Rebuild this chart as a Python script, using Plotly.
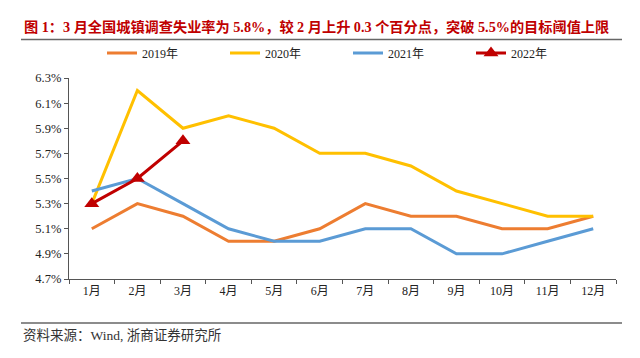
import plotly.graph_objects as go

months = ["1月", "2月", "3月", "4月", "5月", "6月", "7月", "8月", "9月", "10月", "11月", "12月"]
y2019 = [5.1, 5.3, 5.2, 5.0, 5.0, 5.1, 5.3, 5.2, 5.2, 5.1, 5.1, 5.2]
y2020 = [5.3, 6.2, 5.9, 6.0, 5.9, 5.7, 5.7, 5.6, 5.4, 5.3, 5.2, 5.2]
y2021 = [5.4, 5.5, 5.3, 5.1, 5.0, 5.0, 5.1, 5.1, 4.9, 4.9, 5.0, 5.1]
y2022 = [5.3, 5.5, 5.8]
ytick_vals = [4.7, 4.9, 5.1, 5.3, 5.5, 5.7, 5.9, 6.1, 6.3]
ytick_text = ["4.7%", "4.9%", "5.1%", "5.3%", "5.5%", "5.7%", "5.9%", "6.1%", "6.3%"]

# page body has an 8px default margin: work in window pixels, convert to figure pixels
OFF = 8
W, H = 640 - 2 * OFF, 358 - 2 * OFF
PL, PR, PT, PB = 69, 616, 78, 279          # plot area in window pixels
L, T = PL - OFF, PT - OFF
R, B = W - (PR - OFF), H - (PB - OFF)
pw, ph = W - L - R, H - T - B

def px(x):
    return (x - OFF - L) / pw

def py(y):
    return (H - B - (y - OFF)) / ph

serif = "Liberation Serif, Noto Sans CJK SC, serif"

fig = go.Figure()
fig.add_trace(go.Scatter(x=months, y=y2019, name="2019年", mode="lines",
                         line=dict(color="#ED7D31", width=3)))
fig.add_trace(go.Scatter(x=months, y=y2020, name="2020年", mode="lines",
                         line=dict(color="#FFC000", width=3)))
fig.add_trace(go.Scatter(x=months, y=y2021, name="2021年", mode="lines",
                         line=dict(color="#5B9BD5", width=3)))
fig.add_trace(go.Scatter(x=months[:3], y=y2022, name="2022年", mode="lines+markers",
                         line=dict(color="#C00000", width=3),
                         marker=dict(symbol="triangle-up", size=13, color="#C00000")))

fig.update_layout(
    width=W, height=H,
    margin=dict(l=L, r=R, t=T, b=B, autoexpand=False),
    paper_bgcolor="white", plot_bgcolor="white",
    font=dict(family=serif, size=12, color="#222"),
    showlegend=True,
    legend=dict(orientation="h", x=px(102), xanchor="left", y=py(53), yanchor="middle",
                entrywidth=78, entrywidthmode="pixels", font=dict(size=12, family=serif),
                bgcolor="rgba(0,0,0,0)", itemwidth=30, tracegroupgap=0),
    xaxis=dict(type="category", range=[-0.5, 11.5], showgrid=False,
               showline=True, linecolor="#555", linewidth=1.2,
               ticks="outside", ticklen=4, tickcolor="#555", tickson="boundaries",
               tickfont=dict(size=12, family=serif), fixedrange=True),
    yaxis=dict(range=[4.7, 6.3], tickvals=ytick_vals, ticktext=ytick_text,
               showgrid=False, zeroline=False,
               showline=True, linecolor="#555", linewidth=1.2,
               ticks="outside", ticklen=4, tickcolor="#555",
               tickfont=dict(size=12.5, family=serif)),
)

fig.add_annotation(
    text="<b>图 1：3 月全国城镇调查失业率为 5.8%，较 2 月上升 0.3 个百分点，突破 5.5%的目标阈值上限</b>",
    xref="paper", yref="paper", x=px(316), y=py(27), xanchor="center", yanchor="middle",
    showarrow=False, font=dict(size=14.2, color="#C00000", family=serif))
fig.add_annotation(
    text="资料来源：Wind, 浙商证券研究所",
    xref="paper", yref="paper", x=px(21), y=py(335), xanchor="left", yanchor="middle",
    showarrow=False, font=dict(size=13.5, color="#333", family=serif))

fig.add_shape(type="line", xref="paper", yref="paper", x0=px(21), x1=px(622),
              y0=py(39.5), y1=py(39.5), line=dict(color="#666", width=1.5))
fig.add_shape(type="line", xref="paper", yref="paper", x0=px(21), x1=px(622),
              y0=py(323), y1=py(323), line=dict(color="#666", width=1.5))

fig.write_html("out.html")
